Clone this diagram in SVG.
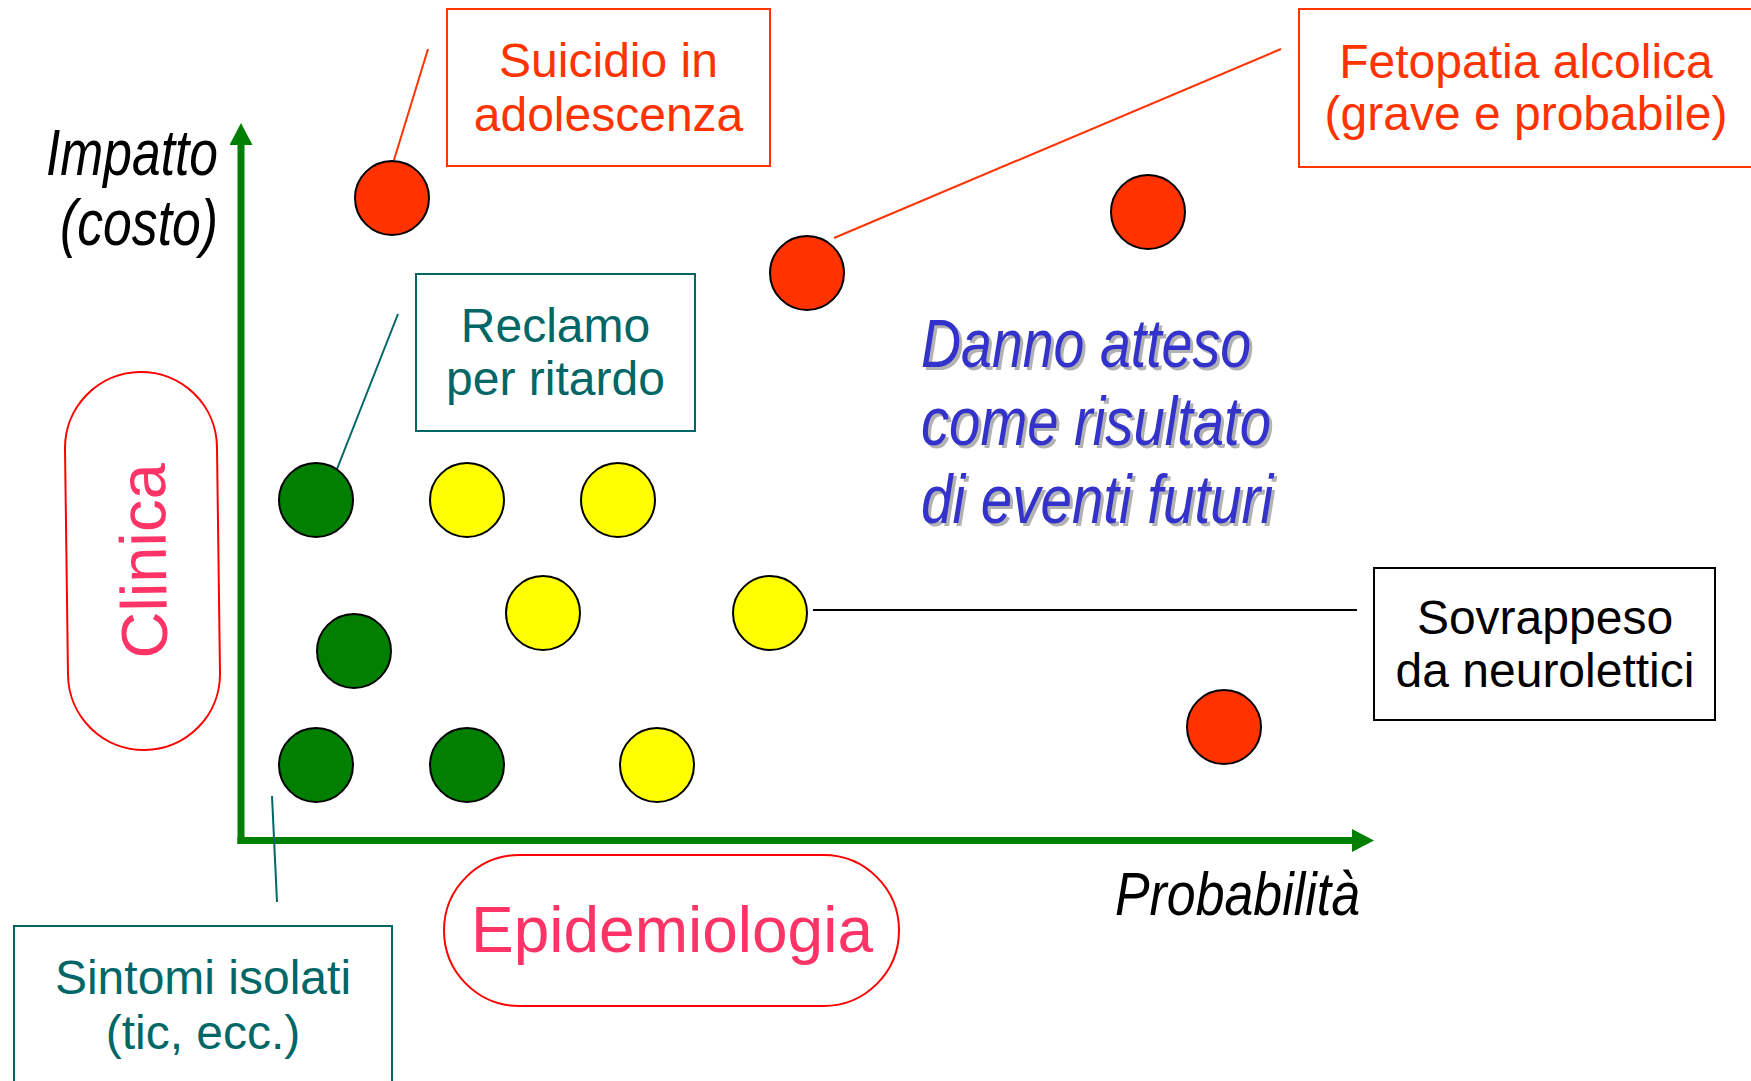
<svg xmlns="http://www.w3.org/2000/svg" width="1751" height="1081" viewBox="0 0 1751 1081">
<style>
  text { font-family: "Liberation Sans", Arial, sans-serif; }
  .box-red { fill: #FFFFFF; stroke: #FF3300; stroke-width: 2; }
  .box-teal { fill: #FFFFFF; stroke: #006666; stroke-width: 2; }
  .box-black { fill: #FFFFFF; stroke: #000000; stroke-width: 2; }
  .t-red { fill: #FF3300; font-size: 48px; text-anchor: middle; }
  .t-teal { fill: #006666; font-size: 48px; text-anchor: middle; }
  .t-black { fill: #000000; font-size: 48px; text-anchor: middle; }
  .pill { fill: #FFFFFF; stroke: #FF0000; stroke-width: 2; }
  .t-pink { fill: #FF3366; }
  .axis-label { fill: #000000; font-style: italic; }
  .blue { fill: #3333CC; font-style: italic; font-size: 68px; }
  .shadow { fill: #B2B2B2; font-style: italic; font-size: 68px; }
  .dot { stroke: #000000; stroke-width: 2; }
  .red { fill: #FF3300; }
  .yellow { fill: #FFFF00; }
  .green { fill: #007F00; }
  .conn { fill: none; stroke-width: 2; }
</style>
<defs>
  <marker id="arrow" viewBox="0 0 22 23" refX="0" refY="11.5" markerWidth="22" markerHeight="23" markerUnits="userSpaceOnUse" orient="auto">
    <path d="M0,0 L22,11.5 L0,23 Z" fill="#007F00"/>
  </marker>
</defs>
<rect width="1751" height="1081" fill="#FFFFFF"/>

<g id="axes">
  <line x1="241" y1="844" x2="241" y2="145" stroke="#007F00" stroke-width="7" marker-end="url(#arrow)"/>
  <line x1="237.5" y1="840.5" x2="1352" y2="840.5" stroke="#007F00" stroke-width="7" marker-end="url(#arrow)"/>
</g>

<g id="connectors">
  <line class="conn" x1="428" y1="49" x2="394" y2="160" stroke="#FF3300"/>
  <line class="conn" x1="1281" y1="49" x2="834" y2="238" stroke="#FF3300"/>
  <line class="conn" x1="398" y1="314" x2="337" y2="469" stroke="#006666"/>
  <line class="conn" x1="272" y1="796" x2="277" y2="902" stroke="#006666"/>
  <line class="conn" x1="813" y1="610" x2="1357" y2="610" stroke="#000000"/>
</g>

<g id="labels">
  <text class="axis-label" x="46" y="175" font-size="65" textLength="172" lengthAdjust="spacingAndGlyphs">Impatto</text>
  <text class="axis-label" x="60" y="245" font-size="65" textLength="158" lengthAdjust="spacingAndGlyphs">(costo)</text>
  <text class="axis-label" x="1115" y="915" font-size="61" textLength="245" lengthAdjust="spacingAndGlyphs">Probabilità</text>
</g>

<g id="danno-atteso">
  <text class="shadow" x="924" y="370" textLength="330" lengthAdjust="spacingAndGlyphs">Danno atteso</text>
  <text class="shadow" x="924" y="448" textLength="350" lengthAdjust="spacingAndGlyphs">come risultato</text>
  <text class="shadow" x="924" y="526" textLength="352" lengthAdjust="spacingAndGlyphs">di eventi futuri</text>
  <text class="blue" x="921" y="367" textLength="330" lengthAdjust="spacingAndGlyphs">Danno atteso</text>
  <text class="blue" x="921" y="445" textLength="350" lengthAdjust="spacingAndGlyphs">come risultato</text>
  <text class="blue" x="921" y="523" textLength="352" lengthAdjust="spacingAndGlyphs">di eventi futuri</text>
</g>

<g id="points">
  <circle class="dot red" cx="392" cy="198" r="37"/>
  <circle class="dot red" cx="807" cy="273" r="37"/>
  <circle class="dot red" cx="1148" cy="212" r="37"/>
  <circle class="dot red" cx="1224" cy="727" r="37"/>
  <circle class="dot green" cx="316" cy="500" r="37"/>
  <circle class="dot yellow" cx="467" cy="500" r="37"/>
  <circle class="dot yellow" cx="618" cy="500" r="37"/>
  <circle class="dot green" cx="354" cy="651" r="37"/>
  <circle class="dot yellow" cx="543" cy="613" r="37"/>
  <circle class="dot yellow" cx="770" cy="613" r="37"/>
  <circle class="dot green" cx="316" cy="765" r="37"/>
  <circle class="dot green" cx="467" cy="765" r="37"/>
  <circle class="dot yellow" cx="657" cy="765" r="37"/>
</g>

<g id="suicidio">
  <rect class="box-red" x="447" y="9" width="323" height="157"/>
  <text class="t-red" x="608.5" y="77">Suicidio in</text>
  <text class="t-red" x="608.5" y="131">adolescenza</text>
</g>

<g id="fetopatia">
  <rect class="box-red" x="1299" y="9" width="470" height="158"/>
  <text class="t-red" x="1526" y="78">Fetopatia alcolica</text>
  <text class="t-red" x="1526" y="130">(grave e probabile)</text>
</g>

<g id="reclamo">
  <rect class="box-teal" x="416" y="274" width="279" height="157"/>
  <text class="t-teal" x="555.5" y="342">Reclamo</text>
  <text class="t-teal" x="555.5" y="395">per ritardo</text>
</g>

<g id="sovrappeso">
  <rect class="box-black" x="1374" y="568" width="341" height="152"/>
  <text class="t-black" x="1545" y="634">Sovrappeso</text>
  <text class="t-black" x="1545" y="687">da neurolettici</text>
</g>

<g id="sintomi">
  <rect class="box-teal" x="14" y="926" width="378" height="200"/>
  <text class="t-teal" x="203" y="994">Sintomi isolati</text>
  <text class="t-teal" x="203" y="1049">(tic, ecc.)</text>
</g>

<g id="clinica" transform="translate(142.5,561) rotate(-0.76)">
  <rect class="pill" x="-76" y="-189" width="152" height="378" rx="76" ry="76"/>
  <text class="t-pink" x="0" y="23.5" font-size="65" text-anchor="middle" transform="rotate(-90)">Clinica</text>
</g>

<g id="epidemiologia">
  <rect class="pill" x="444" y="855" width="455" height="151" rx="75.5" ry="75.5"/>
  <text class="t-pink" x="672" y="952" font-size="64" text-anchor="middle">Epidemiologia</text>
</g>
</svg>
